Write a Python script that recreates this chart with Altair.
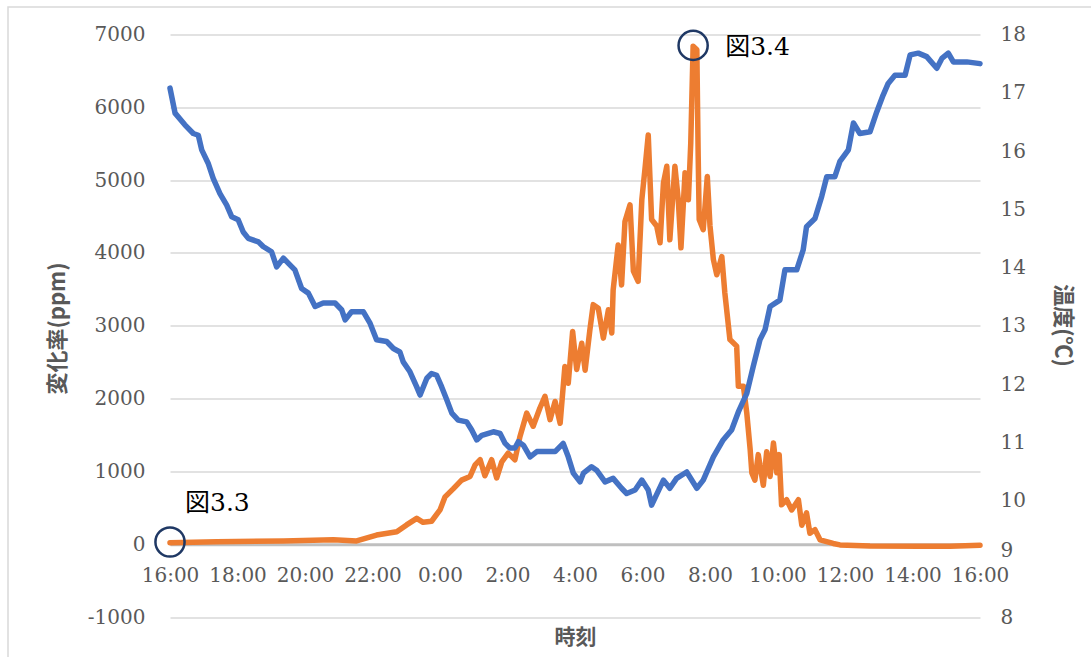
import altair as alt
import pandas as pd

# ---- axis ticks / labels ----
tick_hours = [0, 2, 4, 6, 8, 10, 12, 14, 16, 18, 20, 22, 24]
tick_labels = ["16:00", "18:00", "20:00", "22:00", "0:00", "2:00", "4:00",
               "6:00", "8:00", "10:00", "12:00", "14:00", "16:00"]
ppm_ticks = [-1000, 0, 1000, 2000, 3000, 4000, 5000, 6000, 7000]
temp_ticks = [8, 9, 10, 11, 12, 13, 14, 15, 16, 17, 18]

# ---- orange series: 変化率 (ppm), hours elapsed since 16:00 ----
orange_hours = [0.00, 1.38, 3.36, 4.84, 5.53, 6.12, 6.72, 7.01, 7.31, 7.50,
                7.75, 8.00, 8.15, 8.39, 8.64, 8.89, 9.04, 9.19, 9.33, 9.53,
                9.68, 9.83, 10.02, 10.22, 10.37, 10.57, 10.76, 10.96, 11.11, 11.26,
                11.41, 11.56, 11.70, 11.80, 11.93, 12.05, 12.20, 12.30, 12.44, 12.54,
                12.69, 12.84, 12.99, 13.09, 13.13, 13.28, 13.38, 13.48, 13.63, 13.73,
                13.87, 13.98, 14.07, 14.17, 14.27, 14.42, 14.52, 14.62, 14.72, 14.81,
                14.96, 15.06, 15.14, 15.26, 15.36, 15.43, 15.50, 15.61, 15.65, 15.68,
                15.80, 15.92, 16.00, 16.10, 16.20, 16.35, 16.44, 16.59, 16.79, 16.84,
                16.99, 17.09, 17.19, 17.24, 17.33, 17.43, 17.58, 17.68, 17.78, 17.88,
                17.98, 18.05, 18.12, 18.27, 18.42, 18.62, 18.72, 18.86, 18.96, 19.11,
                19.26, 19.65, 19.85, 20.74, 22.22, 23.11, 24.00]
orange_ppm = [20, 35, 45, 60, 45, 125, 170, 265, 355, 300,
              315, 470, 650, 760, 880, 930, 1090, 1160, 940, 1160,
              910, 1130, 1250, 1160, 1480, 1800, 1620, 1870, 2030, 1710,
              1960, 1660, 2440, 2210, 2920, 2400, 2760, 2390, 2940, 3290,
              3240, 2830, 3220, 2900, 3490, 4110, 3560, 4430, 4660, 3750,
              3610, 4730, 5140, 5620, 4460, 4370, 4140, 4960, 5190, 4180,
              5190, 4730, 4070, 5100, 4730, 5510, 6840, 6790, 5330, 4460,
              4320, 5050, 4370, 3910, 3700, 3950, 3450, 2810, 2720, 2170,
              2170, 1800, 1300, 980, 880, 1230, 810, 1270, 930, 1390,
              980, 1230, 540, 610, 470, 610, 260, 430, 150, 200,
              60, 10, -10, -25, -30, -30, -15]

# ---- blue series: 温度 (°C) ----
blue_hours = [0.00, 0.15, 0.44, 0.69, 0.84, 0.94, 1.13, 1.28, 1.48, 1.68,
              1.83, 2.02, 2.17, 2.32, 2.62, 2.76, 3.01, 3.16, 3.36, 3.51,
              3.70, 3.90, 4.10, 4.30, 4.54, 4.89, 5.09, 5.19, 5.38, 5.73,
              5.93, 6.12, 6.42, 6.62, 6.81, 6.91, 7.11, 7.31, 7.41, 7.61,
              7.75, 7.90, 8.05, 8.20, 8.35, 8.54, 8.79, 8.94, 9.09, 9.24,
              9.58, 9.78, 9.93, 10.07, 10.22, 10.32, 10.47, 10.67, 10.87, 11.16,
              11.41, 11.65, 11.80, 11.95, 12.15, 12.25, 12.49, 12.64, 12.89, 13.13,
              13.38, 13.53, 13.78, 13.98, 14.17, 14.27, 14.62, 14.81, 15.01, 15.31,
              15.61, 15.80, 16.10, 16.39, 16.64, 16.84, 17.09, 17.28, 17.48, 17.63,
              17.78, 18.07, 18.22, 18.57, 18.76, 18.86, 19.11, 19.31, 19.46, 19.70,
              19.85, 20.10, 20.25, 20.44, 20.74, 20.94, 21.13, 21.28, 21.48, 21.78,
              21.93, 22.17, 22.42, 22.72, 22.87, 23.06, 23.21, 23.61, 24.00]
blue_temp = [17.08, 16.65, 16.45, 16.30, 16.27, 16.02, 15.79, 15.53, 15.27, 15.07,
             14.87, 14.82, 14.61, 14.50, 14.44, 14.36, 14.27, 14.01, 14.16, 14.07,
             13.96, 13.64, 13.56, 13.33, 13.39, 13.39, 13.27, 13.10, 13.24, 13.24,
             13.04, 12.76, 12.73, 12.61, 12.55, 12.38, 12.21, 11.95, 11.81, 12.10,
             12.18, 12.15, 11.95, 11.73, 11.50, 11.38, 11.35, 11.21, 11.04, 11.12,
             11.18, 11.15, 10.98, 10.90, 10.90, 11.01, 10.95, 10.75, 10.84, 10.84,
             10.84, 10.98, 10.75, 10.47, 10.32, 10.47, 10.58, 10.52, 10.32, 10.38,
             10.21, 10.12, 10.18, 10.35, 10.18, 9.92, 10.35, 10.21, 10.38, 10.49,
             10.21, 10.35, 10.75, 11.04, 11.21, 11.52, 11.84, 12.30, 12.76, 12.93,
             13.33, 13.44, 13.96, 13.96, 14.30, 14.70, 14.84, 15.22, 15.56, 15.56,
             15.82, 16.02, 16.48, 16.30, 16.33, 16.67, 16.96, 17.16, 17.30, 17.30,
             17.65, 17.68, 17.62, 17.42, 17.59, 17.68, 17.53, 17.53, 17.50]

# ---- annotations ----
ann_hours = [0.0, 15.5]
ann_ppm = [30, 6850]
ann_labels = ["図3.3", "図3.4"]

orange_df = pd.DataFrame({"h": orange_hours, "ppm": orange_ppm})
blue_df = pd.DataFrame({"h": blue_hours, "temp": blue_temp})
ann_df = pd.DataFrame({"h": ann_hours, "ppm": ann_ppm, "label": ann_labels})

LABEL_FONT = "DejaVu Serif"
TITLE_FONT = "Noto Sans CJK JP"
GRAY = "#595959"

label_expr = "[" + ",".join("'" + t + "'" for t in tick_labels) + "][round(datum.value / 2)]"

x_scale = alt.Scale(domain=[0, 24], nice=False, zero=False)
x_axis = alt.Axis(values=tick_hours, labelExpr=label_expr, grid=False, ticks=False,
                  domainColor="#bfbfbf", domainWidth=3, offset=-72.8,
                  labelPadding=21, labelFont=LABEL_FONT, labelFontSize=20,
                  labelColor=GRAY, labelFlush=False, labelOverlap=False,
                  title="時刻", titleFont=TITLE_FONT, titleFontSize=21,
                  titleFontWeight="bold", titleColor=GRAY, titleY=92.8,
                  titleBaseline="middle")

ppm_scale = alt.Scale(domain=[-1000, 7000], nice=False, zero=False)
left_axis = alt.Axis(values=ppm_ticks, labelExpr="'' + datum.value", grid=True,
                     gridColor="#d9d9d9", gridWidth=1.5, domain=False, ticks=False,
                     labelPadding=25, labelFont=LABEL_FONT, labelFontSize=20,
                     labelColor=GRAY,
                     title="変化率(ppm)", titleFont=TITLE_FONT, titleFontSize=22,
                     titleFontWeight="bold", titleColor=GRAY, titleAngle=270,
                     titleX=-113, titleY=293.5, titleAlign="center",
                     titleBaseline="middle")

temp_scale = alt.Scale(domain=[8, 18], nice=False, zero=False)
right_axis = alt.Axis(values=temp_ticks, format="d", orient="right", grid=False,
                      domain=False, ticks=False, labelPadding=20,
                      labelOffset={"condition": {"test": "datum.value == 9", "value": -8},
                                   "value": 0},
                      labelFont=LABEL_FONT, labelFontSize=20, labelColor=GRAY,
                      title="温度(℃)", titleFont=TITLE_FONT, titleFontSize=22,
                      titleFontWeight="bold", titleColor=GRAY, titleAngle=90,
                      titleX=82, titleY=290.5, titleAlign="center",
                      titleBaseline="middle")

X = alt.X("h:Q", scale=x_scale, axis=x_axis)
Y_ppm = alt.Y("ppm:Q", scale=ppm_scale, axis=left_axis)

border = alt.Chart(alt.Data(values=[{}])).mark_rect(
    fillOpacity=0, stroke="#d9d9d9", strokeWidth=1.5
).encode(x=alt.value(-162), x2=alt.value(940), y=alt.value(-27.5), y2=alt.value(640))

orange = alt.Chart(orange_df).mark_line(
    color="#ED7D31", strokeWidth=5.5, strokeJoin="round", strokeCap="round"
).encode(x=X, y=Y_ppm)

circles = alt.Chart(ann_df).mark_point(
    shape="circle", size=850, filled=False, color="#1F3864", strokeWidth=2.5, opacity=1
).encode(x=X, y=Y_ppm)

text1 = alt.Chart(ann_df).transform_filter("datum.label == '図3.3'").mark_text(
    align="left", baseline="middle", dx=15, dy=-39,
    font="DejaVu Serif, Noto Sans CJK JP", fontSize=25, color="black"
).encode(x=X, y=Y_ppm, text="label:N")

text2 = alt.Chart(ann_df).transform_filter("datum.label == '図3.4'").mark_text(
    align="left", baseline="middle", dx=32, dy=2,
    font="DejaVu Serif, Noto Sans CJK JP", fontSize=25, color="black"
).encode(x=X, y=Y_ppm, text="label:N")

left_layer = alt.layer(border, orange, circles, text1, text2)

blue = alt.Chart(blue_df).mark_line(
    color="#4472C4", strokeWidth=5.5, strokeJoin="round", strokeCap="round"
).encode(x=X, y=alt.Y("temp:Q", scale=temp_scale, axis=right_axis))

chart = alt.layer(left_layer, blue).resolve_scale(y="independent").properties(
    width=810, height=582.5,
    autosize=alt.AutoSizeParams(type="none"),
    padding={"left": 170, "top": 34.5, "right": 111, "bottom": 40},
    background="white",
).configure_view(stroke="transparent")

chart.save("out.html", embed_options={"renderer": "svg", "actions": False})
